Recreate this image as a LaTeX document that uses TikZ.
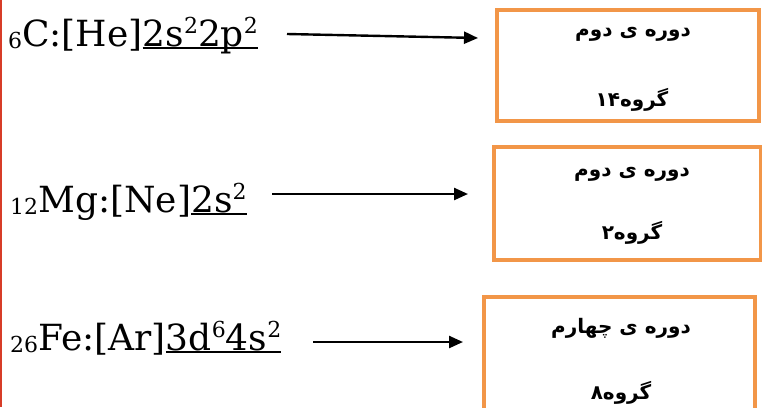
\documentclass[tikz,border=0pt]{standalone}
\usepackage{fontspec}
\setmainfont{DejaVu Serif}
\newfontfamily\arabicfont[Script=Arabic]{DejaVu Sans}
\TeXXeTstate=1
\usetikzlibrary{arrows.meta}
\definecolor{boxorange}{RGB}{242,150,72}
\definecolor{edgered}{RGB}{215,60,40}
\newcommand{\lsub}[1]{\raisebox{-0.06em}{\fontsize{22pt}{22pt}\selectfont #1}}
\newcommand{\sups}[1]{\raisebox{0.36em}{\fontsize{22pt}{22pt}\selectfont #1}}
\newcommand{\ulx}[1]{\setbox0\hbox{#1}\rlap{\rule[-0.08em]{\wd0}{2.2pt}}\box0}
\tikzset{
  formula/.style={anchor=base west, inner sep=0pt, font=\fontsize{36pt}{42pt}\selectfont},
  infobox/.style={draw=boxorange, line width=4pt, inner sep=0pt},
  fatxt/.style={inner sep=0pt, font=\fontsize{20pt}{24pt}\arabicfont\bfseries},
  arr/.style={line width=2.4pt, -{Triangle[length=14pt,width=12pt]}}
}
\begin{document}
\begin{tikzpicture}[x=1pt,y=-1pt]
\useasboundingbox (0,0) rectangle (762,407);
\fill[white] (0,0) rectangle (762,407);
\draw[edgered, line width=2pt] (1,0) -- (1,407);

\node[formula] (c) at (8,46) {\lsub{6}C:[He]\ulx{2s\sups{2}2p\sups{2}}};
\node[formula] (mg) at (10,212) {\lsub{12}Mg:[Ne]\ulx{2s\sups{2}}};
\node[formula] (fe) at (10,350) {\lsub{26}Fe:[Ar]\ulx{3d\sups{6}4s\sups{2}}};

\node[infobox, minimum width=262pt, minimum height=111pt] (b1) at (628,65.5) {};
\node[infobox, minimum width=267pt, minimum height=113pt] (b2) at (627.5,203.5) {};
\node[infobox, minimum width=271pt, minimum height=115pt] (b3) at (619.5,354.5) {};

\node[fatxt] (p1) at (633,34) {\beginR دوره ی دوم\endR};
\node[fatxt] (g1) at (632,100) {\beginR گروه\beginL ۱۴\endL\endR};
\node[fatxt] (p2) at (632,174) {\beginR دوره ی دوم\endR};
\node[fatxt] (g2) at (632,233) {\beginR گروه\beginL ۲\endL\endR};
\node[fatxt] (p3) at (621,328) {\beginR دوره ی چهارم\endR};
\node[fatxt] (g3) at (621,393) {\beginR گروه\beginL ۸\endL\endR};

\coordinate (a1s) at (287,34);
\coordinate (a1e) at (478,38);
\coordinate (a2s) at (272,194);
\coordinate (a2e) at (468,194);
\coordinate (a3s) at (313,342);
\coordinate (a3e) at (463,342);
\draw[arr] (a1s) -- (a1e);
\draw[arr] (a2s) -- (a2e);
\draw[arr] (a3s) -- (a3e);
\end{tikzpicture}
\end{document}
